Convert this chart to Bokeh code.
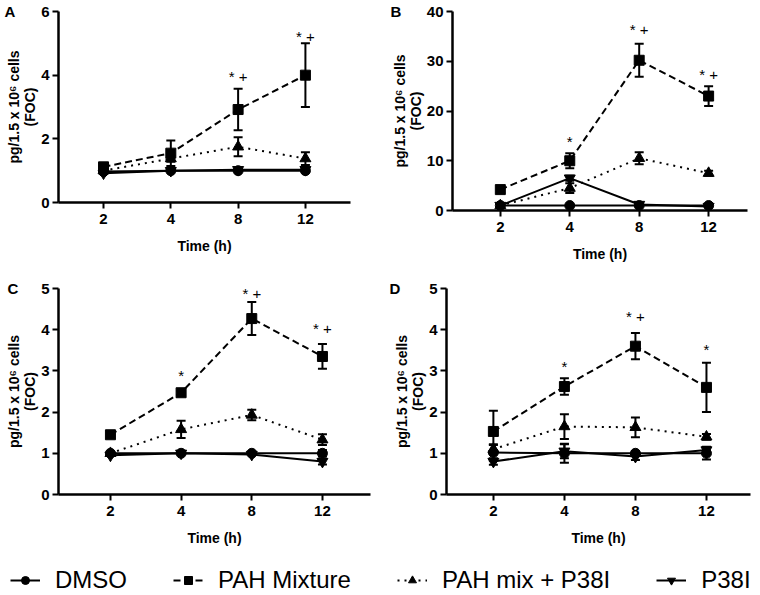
from bokeh.plotting import figure
from bokeh.models import (ColumnDataSource, Whisker, TeeHead, Range1d, FixedTicker,
                          Label, Legend, LegendItem)
from bokeh.layouts import column, row
from bokeh.embed import file_html
from bokeh.resources import INLINE

# ---------------- data ----------------
times = ["2", "4", "8", "12"]
series_names = ["DMSO", "PAH Mixture", "PAH mix + P38I", "P38I"]

# Panel A
a_dmso = [0.97, 1.0, 1.0, 1.0]
a_dmso_err = [0, 0, 0, 0]
a_pah = [1.12, 1.55, 2.92, 4.0]
a_pah_err = [0.06, 0.4, 0.65, 1.0]
a_mix = [1.0, 1.38, 1.75, 1.38]
a_mix_err = [0, 0.1, 0.3, 0.2]
a_p38 = [0.92, 1.0, 1.03, 1.03]
a_p38_err = [0, 0, 0, 0]
a_ann_x = ["8", "12"]
a_ann_y = [3.95, 5.2]
a_ann_t = ["* +", "* +"]

# Panel B
b_dmso = [1.0, 1.0, 1.0, 1.0]
b_dmso_err = [0, 0, 0, 0]
b_pah = [4.2, 10.0, 30.2, 23.0]
b_pah_err = [0, 1.5, 3.3, 2.0]
b_mix = [1.0, 4.5, 10.5, 7.5]
b_mix_err = [0, 1.0, 1.2, 0.5]
b_p38 = [1.0, 6.5, 1.2, 0.8]
b_p38_err = [0, 0.5, 0.3, 0.2]
b_ann_x = ["4", "8", "12"]
b_ann_y = [13.8, 36.4, 27.3]
b_ann_t = ["*", "* +", "* +"]

# Panel C
c_dmso = [1.0, 1.0, 1.0, 1.0]
c_dmso_err = [0, 0, 0, 0.08]
c_pah = [1.45, 2.47, 4.27, 3.35]
c_pah_err = [0, 0.05, 0.4, 0.3]
c_mix = [1.0, 1.58, 1.93, 1.33]
c_mix_err = [0, 0.21, 0.13, 0.13]
c_p38 = [0.95, 1.0, 0.97, 0.8]
c_p38_err = [0, 0, 0, 0.07]
c_ann_x = ["4", "8", "12"]
c_ann_y = [2.9, 4.87, 4.02]
c_ann_t = ["*", "* +", "* +"]

# Panel D
d_dmso = [1.02, 1.0, 1.0, 1.0]
d_dmso_err = [0.2, 0.23, 0.05, 0.15]
d_pah = [1.53, 2.62, 3.6, 2.6]
d_pah_err = [0.5, 0.2, 0.32, 0.6]
d_mix = [1.1, 1.65, 1.63, 1.4]
d_mix_err = [0.1, 0.3, 0.24, 0.07]
d_p38 = [0.8, 1.05, 0.92, 1.08]
d_p38_err = [0.08, 0.17, 0.08, 0.08]
d_ann_x = ["4", "8", "12"]
d_ann_y = [3.1, 4.33, 3.53]
d_ann_t = ["*", "* +", "*"]

a_ticks = [0, 2, 4, 6]
b_ticks = [0, 10, 20, 30, 40]
c_ticks = [0, 1, 2, 3, 4, 5]
d_ticks = [0, 1, 2, 3, 4, 5]

# ---------------- styles ----------------
FONT = "Liberation Sans"
markers = ["circle", "square", "triangle", "inverted_triangle"]
msizes = [10, 10, 11, 11]
dashes = ["solid", "7 4", "2 5", "solid"]
pos = list(range(1, len(times) + 1))
tpos = dict(zip(times, pos))


def make_panel(letter, vals, errs, ann_x, ann_y, ann_t, ymax, yticks,
               width, height, bl, br, bt, bb, xr, letter_dx):
    p = figure(width=width, height=height, x_range=Range1d(*xr), y_range=Range1d(0, ymax),
               toolbar_location=None, output_backend="svg",
               min_border_left=bl, min_border_right=br, min_border_top=bt, min_border_bottom=bb)
    p.xgrid.grid_line_color = None
    p.ygrid.grid_line_color = None
    p.outline_line_color = None

    # panel letter as a title pulled down next to the top of the frame
    p.title.text = letter
    p.title.align = "left"
    p.title.offset = letter_dx
    p.title.standoff = -20
    p.title.vertical_align = "middle"
    p.title.text_font = FONT
    p.title.text_font_style = "bold"
    p.title.text_font_size = "15px"
    p.title.text_color = "black"

    for i, (v, e) in enumerate(zip(vals, errs)):
        p.line(pos, v, line_color="black", line_width=2, line_dash=dashes[i])
        bx = [x for x, ee in zip(pos, e) if ee > 0]
        up = [vv + ee for vv, ee in zip(v, e) if ee > 0]
        lo = [vv - ee for vv, ee in zip(v, e) if ee > 0]
        if bx:
            src = ColumnDataSource(dict(x=bx, upper=up, lower=lo))
            w = Whisker(source=src, base="x", upper="upper", lower="lower",
                        line_color="black", line_width=2,
                        upper_head=TeeHead(size=9, line_width=2, line_color="black"),
                        lower_head=TeeHead(size=9, line_width=2, line_color="black"))
            p.add_layout(w)
    for i, v in enumerate(vals):
        p.scatter(pos, v, marker=markers[i], size=msizes[i], color="black")

    for ax_, ay_, at_ in zip(ann_x, ann_y, ann_t):
        p.add_layout(Label(x=tpos[ax_], y=ay_, text=at_, text_align="center",
                           text_baseline="middle", text_font=FONT, text_font_size="15px",
                           text_color="black"))

    p.xaxis.ticker = FixedTicker(ticks=pos)
    p.xaxis.major_label_overrides = {pp: t for pp, t in zip(pos, times)}
    p.yaxis.ticker = FixedTicker(ticks=yticks)
    for ax in (p.xaxis[0], p.yaxis[0]):
        ax.axis_line_width = 2.5
        ax.axis_line_color = "black"
        ax.major_tick_line_width = 2
        ax.major_tick_line_color = "black"
        ax.major_tick_out = 6
        ax.major_tick_in = 0
        ax.minor_tick_line_color = None
        ax.major_label_text_font = FONT
        ax.major_label_text_font_style = "bold"
        ax.major_label_text_font_size = "15px"
        ax.major_label_text_color = "black"
        ax.axis_label_text_font = FONT
        ax.axis_label_text_font_style = "bold"
        ax.axis_label_text_font_size = "14px"
        ax.axis_label_text_color = "black"
    p.xaxis.major_label_standoff = 5
    p.xaxis.axis_label = "Time (h)"
    p.xaxis.axis_label_standoff = 11
    p.yaxis.major_label_standoff = 3
    p.yaxis.axis_label = "pg/1.5 x 10\u2076 cells\n(FOC)"
    p.yaxis.axis_label_standoff = 0
    p.yaxis.axis_label_text_line_height = 1.0
    return p


pa = make_panel("A", [a_dmso, a_pah, a_mix, a_p38], [a_dmso_err, a_pah_err, a_mix_err, a_p38_err],
                a_ann_x, a_ann_y, a_ann_t, 6, a_ticks,
                388, 262, 58, 38, 11, 60, (0.331, 4.67), -54)
pb = make_panel("B", [b_dmso, b_pah, b_mix, b_p38], [b_dmso_err, b_pah_err, b_mix_err, b_p38_err],
                b_ann_x, b_ann_y, b_ann_t, 40, b_ticks,
                372, 270, 63, 13, 11, 60, (0.311, 4.56), -62)
pc = make_panel("C", [c_dmso, c_pah, c_mix, c_p38], [c_dmso_err, c_pah_err, c_mix_err, c_p38_err],
                c_ann_x, c_ann_y, c_ann_t, 5, c_ticks,
                388, 284, 58, 18, 16, 60, (0.265, 4.68), -51)
pd_ = make_panel("D", [d_dmso, d_pah, d_mix, d_p38], [d_dmso_err, d_pah_err, d_mix_err, d_p38_err],
                 d_ann_x, d_ann_y, d_ann_t, 5, d_ticks,
                 372, 284, 58, 10, 18, 60, (0.34, 4.62), -57)

# ---------------- legend ----------------
lg = figure(width=760, height=41, x_range=Range1d(-10, -9), y_range=Range1d(-10, -9),
            toolbar_location=None, output_backend="svg", min_border=0,
            x_axis_location=None, y_axis_location=None)
lg.xgrid.grid_line_color = None
lg.ygrid.grid_line_color = None
lg.outline_line_color = None
items = []
for i, (name, v) in enumerate(zip(series_names, [a_dmso, a_pah, a_mix, a_p38])):
    lr = lg.line(x=pos, y=v, line_color="black", line_width=2, line_dash=dashes[i])
    sr = lg.scatter(x=pos, y=v, marker=markers[i], size=msizes[i], color="black")
    items.append(LegendItem(label=name, renderers=[lr, sr]))
leg = Legend(items=items, orientation="horizontal", location=(10, 1), spacing=46,
             glyph_width=30, glyph_height=20, label_standoff=15,
             label_text_font=FONT, label_text_font_size="24px", label_text_color="black",
             padding=0, margin=0, border_line_alpha=0, background_fill_alpha=0)
lg.add_layout(leg)

layout = column(row(pa, pb), row(pc, pd_), lg)

open("out.html", "w").write(file_html(layout, INLINE))
